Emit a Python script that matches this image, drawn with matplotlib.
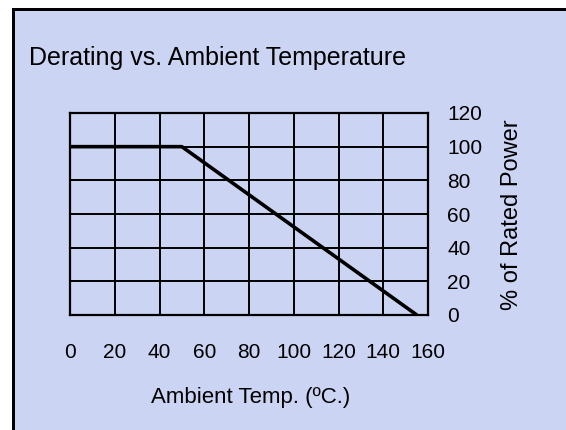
import matplotlib.pyplot as plt
from matplotlib.patches import Rectangle

plt.rcParams['font.family'] = ['Liberation Sans', 'DejaVu Sans']

# derating curve
temp = [0, 50, 155]
power = [100, 100, 0]

x_ticks = [0, 20, 40, 60, 80, 100, 120, 140, 160]
y_ticks = [0, 20, 40, 60, 80, 100, 120]

bg = '#ccd4f3'

fig = plt.figure(figsize=(5.66, 4.30), dpi=100)
fig.patch.set_facecolor('white')
# panel with black frame on top and left
fig.patches.append(Rectangle((15 / 566, 0), 1, 1 - 11 / 430, transform=fig.transFigure,
                             facecolor=bg, edgecolor='none', zorder=-10))
fig.patches.append(Rectangle((12 / 566, 0), 3 / 566, 1 - 8 / 430, transform=fig.transFigure,
                             facecolor='black', edgecolor='none', zorder=-9))
fig.patches.append(Rectangle((12 / 566, 1 - 11 / 430), 1, 3 / 430, transform=fig.transFigure,
                             facecolor='black', edgecolor='none', zorder=-9))

ax = fig.add_axes([70 / 566, 115 / 430, 358 / 566, 202 / 430])
ax.set_facecolor(bg)
ax.plot(temp, power, color='black', linewidth=2.6, solid_capstyle='butt', zorder=3)

ax.set_xlim(0, 160)
ax.set_ylim(0, 120)
ax.set_xticks(x_ticks)
ax.set_yticks(y_ticks)
ax.grid(True, color='black', linewidth=1.4)
ax.tick_params(length=0, labelsize=15)
ax.tick_params(axis='x', pad=20)
ax.tick_params(axis='y', pad=14)
ax.yaxis.tick_right()
for s in ax.spines.values():
    s.set_linewidth(1.6)

fig.text(29 / 566, 1 - 58 / 430, 'Derating vs. Ambient Temperature', fontsize=18,
         ha='left', va='center')
fig.text(251 / 566, 1 - 397 / 430, 'Ambient Temp. (ºC.)', fontsize=16,
         ha='center', va='center')
fig.text(512 / 566, 1 - 215 / 430, '% of Rated Power', fontsize=17, rotation=90,
         ha='center', va='center')

fig.savefig('out.png', dpi=100, facecolor=fig.get_facecolor())
